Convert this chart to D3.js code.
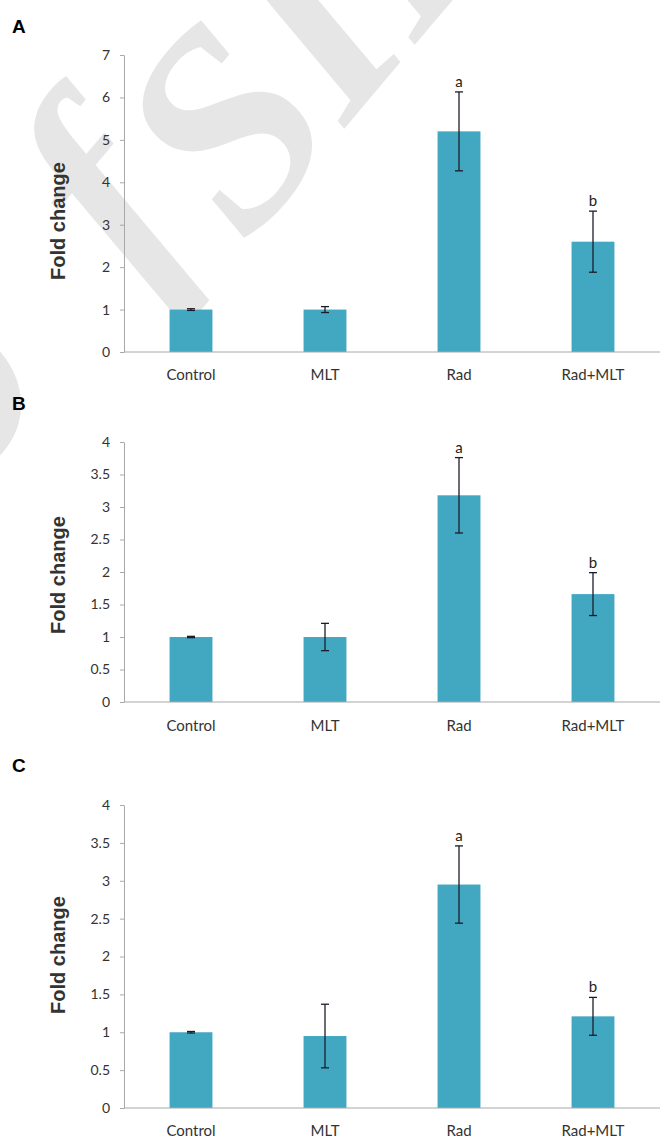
<html>
<head>
<script src="https://d3js.org/d3.v7.min.js"></script>
<style>
body { margin: 0; background: #fff; }
.tick line { stroke: #a8a8a8; }
.domain { stroke: #a8a8a8; }
</style>
</head>
<body>
<svg id="svg1" width="669" height="1139"></svg>
<script>
// data
var categories = ["Control", "MLT", "Rad", "Rad+MLT"];
var letters = ["", "", "a", "b"];

var meansA = [1.0, 1.0, 5.2, 2.6];
var errA   = [0.02, 0.07, 0.93, 0.72];
var ticksA = [0, 1, 2, 3, 4, 5, 6, 7];

var meansB = [1.0, 1.0, 3.18, 1.66];
var errB   = [0.01, 0.21, 0.58, 0.33];
var ticksB = [0, 0.5, 1, 1.5, 2, 2.5, 3, 3.5, 4];

var meansC = [1.0, 0.95, 2.95, 1.21];
var errC   = [0.01, 0.42, 0.51, 0.25];
var ticksC = [0, 0.5, 1, 1.5, 2, 2.5, 3, 3.5, 4];

var svg = d3.select("#svg1");
var barColor = "#42a8c2";

// faint watermark behind everything (pieces placed separately)
var wm = [["o", -34, 492], ["f", 140, 290], ["SID", 246, 246]];
svg.selectAll(".wm").data(wm).enter().append("text").attr("class", "wm")
  .attr("transform", function(d) { return "translate(" + d[1] + "," + d[2] + ") rotate(-50)"; })
  .attr("font-family", "Liberation Serif, serif")
  .attr("font-style", "italic")
  .attr("font-weight", "bold")
  .attr("font-size", 280)
  .attr("fill", "#e6e6e6")
  .text(function(d) { return d[0]; });

var xscale = d3.scaleBand().domain(categories).range([124, 660])
  .paddingInner(0.68).paddingOuter(0.34);

function panel(tag, tagY, means, errs, ticks, top, bottom, labelY, titleY) {
  var yscale = d3.scaleLinear().domain([0, d3.max(ticks)]).range([bottom, top]);
  var g = svg.append("g");

  // panel letter
  g.append("text").attr("x", 12).attr("y", tagY)
    .attr("font-family", "Liberation Sans, Arial").attr("font-weight", "bold")
    .attr("font-size", 19).text(tag);

  // y axis
  var ya = g.append("g").attr("transform", "translate(" + xscale.range()[0] + ",0)")
    .call(d3.axisLeft(yscale).tickValues(ticks).tickSize(4).tickPadding(10)
      .tickSizeOuter(0).tickFormat(d3.format("")));
  ya.selectAll("text").attr("font-family", "Lato, sans-serif").attr("font-size", 14).attr("fill", "#333");

  // bars
  g.selectAll("rect").data(means).enter().append("rect")
    .attr("x", function(d, i) { return xscale(categories[i]); })
    .attr("y", function(d) { return yscale(d); })
    .attr("width", xscale.bandwidth())
    .attr("height", function(d) { return bottom - yscale(d); })
    .attr("fill", barColor);

  // x axis line on top of bars
  g.append("line").attr("x1", xscale.range()[0]).attr("x2", xscale.range()[1])
    .attr("y1", bottom).attr("y2", bottom).attr("stroke", "#a8a8a8");

  // error bars
  var half = xscale.bandwidth() / 2;
  var eb = g.selectAll(".eb").data(means).enter().append("g").attr("class", "eb")
    .attr("stroke", "#1c1c28").attr("stroke-width", 1.3);
  eb.append("line")
    .attr("x1", function(d, i) { return xscale(categories[i]) + half; })
    .attr("x2", function(d, i) { return xscale(categories[i]) + half; })
    .attr("y1", function(d, i) { return yscale(d + errs[i]); })
    .attr("y2", function(d, i) { return yscale(d - errs[i]); });
  eb.append("line")
    .attr("x1", function(d, i) { return xscale(categories[i]) + half - 4; })
    .attr("x2", function(d, i) { return xscale(categories[i]) + half + 4; })
    .attr("y1", function(d, i) { return yscale(d + errs[i]); })
    .attr("y2", function(d, i) { return yscale(d + errs[i]); });
  eb.append("line")
    .attr("x1", function(d, i) { return xscale(categories[i]) + half - 4; })
    .attr("x2", function(d, i) { return xscale(categories[i]) + half + 4; })
    .attr("y1", function(d, i) { return yscale(d - errs[i]); })
    .attr("y2", function(d, i) { return yscale(d - errs[i]); });

  // significance letters
  g.selectAll(".sig").data(means).enter().append("text").attr("class", "sig")
    .attr("x", function(d, i) { return xscale(categories[i]) + half; })
    .attr("y", function(d, i) { return yscale(d + errs[i]) - 5; })
    .attr("text-anchor", "middle")
    .attr("font-family", "Lato, sans-serif").attr("font-size", 15).attr("fill", "#222")
    .text(function(d, i) { return letters[i]; });

  // category labels
  g.selectAll(".cat").data(categories).enter().append("text").attr("class", "cat")
    .attr("x", function(d) { return xscale(d) + half; })
    .attr("y", labelY + 6)
    .attr("text-anchor", "middle")
    .attr("font-family", "Lato, sans-serif").attr("font-size", 15).attr("fill", "#333")
    .text(function(d) { return d; });

  // y title
  g.append("text")
    .attr("transform", "translate(65," + titleY + ") rotate(-90)")
    .attr("text-anchor", "middle")
    .attr("font-family", "Liberation Sans, Arial").attr("font-weight", "bold")
    .attr("font-size", 20).attr("fill", "#333")
    .text("Fold change");
}

panel("A", 33, meansA, errA, ticksA, 55, 352, 374, 221);
panel("B", 410, meansB, errB, ticksB, 442, 702, 725, 575);
panel("C", 772, meansC, errC, ticksC, 805, 1108, 1130, 955);
</script>
</body>
</html>
